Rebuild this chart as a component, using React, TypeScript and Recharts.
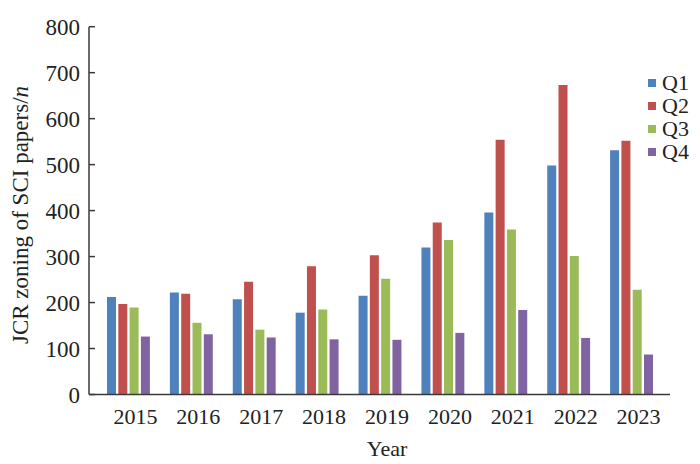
import { Bar, BarChart, XAxis, YAxis } from 'recharts'

const YEARS = ['2015', '2016', '2017', '2018', '2019', '2020', '2021', '2022', '2023']
const Q1 = [212, 222, 207, 178, 215, 320, 396, 498, 531]
const Q2 = [197, 219, 245, 279, 303, 374, 554, 673, 552]
const Q3 = [189, 156, 141, 185, 252, 336, 359, 301, 228]
const Q4 = [126, 131, 124, 120, 119, 134, 184, 123, 87]
const Y_TICKS = [0, 100, 200, 300, 400, 500, 600, 700, 800]

const SERIES = [
  { key: 'Q1', color: '#4f81bd' },
  { key: 'Q2', color: '#c0504d' },
  { key: 'Q3', color: '#9bbb59' },
  { key: 'Q4', color: '#8064a2' },
]

const data = YEARS.map((year, i) => ({ year, Q1: Q1[i], Q2: Q2[i], Q3: Q3[i], Q4: Q4[i] }))

const FONT = "'Liberation Serif', 'Times New Roman', Times, serif"
const AXIS = '#3a3a3a'
const TEXT = '#222'
const TICK_GAP = 9

function YLabel() {
  return (
    <text
      x={20}
      y={215}
      transform="rotate(-90 20 215)"
      textAnchor="middle"
      dominantBaseline="central"
      style={{ fontFamily: FONT, fontSize: 23 }}
      fill={TEXT}
    >
      JCR zoning of SCI papers/<tspan fontStyle="italic">n</tspan>
    </text>
  )
}

function XLabel() {
  return (
    <text x={387} y={456} textAnchor="middle" style={{ fontFamily: FONT, fontSize: 22 }} fill={TEXT}>
      Year
    </text>
  )
}

// y ticks in the figure point into the plot, so draw the mark with the label
function YTick(props: any) {
  const { x, y, payload } = props
  const axisX = x + TICK_GAP
  return (
    <g>
      <line x1={axisX} x2={axisX + 6} y1={y} y2={y} stroke={AXIS} strokeWidth={1.5} />
      <text x={x} y={y} dy="0.36em" textAnchor="end" style={{ fontFamily: FONT, fontSize: 23 }} fill={TEXT}>
        {payload.value}
      </text>
    </g>
  )
}

// legend drawn beside the plot, as in the source figure
function LegendBox() {
  return (
    <div style={{ position: 'absolute', left: 648, top: 72, fontFamily: FONT, fontSize: 22, color: TEXT }}>
      {SERIES.map((s) => (
        <div key={s.key} style={{ display: 'flex', alignItems: 'center', height: 22.8 }}>
          <span style={{ width: 8, height: 8, background: s.color, marginRight: 6, display: 'inline-block' }} />
          <span style={{ lineHeight: '22px' }}>{s.key}</span>
        </div>
      ))}
    </div>
  )
}

export default function App() {
  return (
    <div
      style={{ position: 'absolute', left: 0, top: 0, width: 700, height: 464, background: '#fff', fontFamily: FONT }}
    >
      <BarChart
        width={700}
        height={464}
        data={data}
        margin={{ top: 26.7, right: 30, bottom: 39.5, left: 0 }}
        barSize={9}
        barGap={2.3}
        style={{ fontFamily: FONT }}
      >
        <XAxis
          dataKey="year"
          height={30}
          tickLine={false}
          axisLine={{ stroke: AXIS, strokeWidth: 1.5 }}
          padding={{ left: 8, right: 7 }}
          tick={{ fontSize: 22, fill: TEXT, dx: 7, dy: 6, style: { fontFamily: FONT } }}
          interval={0}
          label={<XLabel />}
        />
        <YAxis
          width={89}
          domain={[0, 800]}
          ticks={Y_TICKS}
          interval={0}
          tickSize={0}
          tickMargin={TICK_GAP}
          tickLine={false}
          axisLine={{ stroke: AXIS, strokeWidth: 1.5 }}
          tick={<YTick />}
          label={<YLabel />}
        />
        {SERIES.map((s) => (
          <Bar key={s.key} dataKey={s.key} name={s.key} fill={s.color} isAnimationActive={false} />
        ))}
      </BarChart>
      <LegendBox />
    </div>
  )
}
